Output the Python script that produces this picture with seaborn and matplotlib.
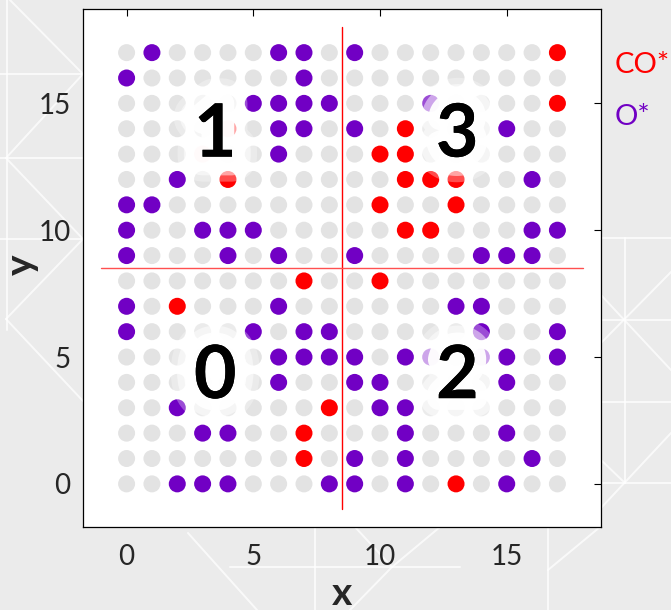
import matplotlib
matplotlib.use("Agg")
import matplotlib.pyplot as plt
import matplotlib.patheffects as pe
from matplotlib.lines import Line2D
import pandas as pd
import seaborn as sns

# Lattice: 18 x 18 adsorption sites
grid_n = 18
tick_values = [0, 5, 10, 15]

# Sites occupied by O*
o_x = [1, 6, 7, 0, 7, 5, 6, 7, 8, 6, 7, 6, 2, 0, 1, 0, 3, 4, 5, 0, 4, 6,
       9, 12, 9, 15, 16, 16, 17, 9, 14, 15, 16,
       0, 6, 0, 5, 7, 8, 6, 7, 8, 6, 2, 3, 4, 2, 3, 4, 8,
       13, 14, 14, 17, 9, 11, 12, 14, 15, 17, 9, 10, 15, 10, 11, 11, 15,
       9, 11, 16, 9, 11, 15]
o_y = [17, 17, 17, 16, 16, 15, 15, 15, 15, 14, 14, 13, 12, 11, 11, 10, 10, 10, 10, 9, 9, 9,
       17, 15, 14, 14, 12, 10, 10, 9, 9, 9, 9,
       7, 7, 6, 6, 6, 6, 5, 5, 5, 4, 3, 2, 2, 0, 0, 0, 0,
       7, 7, 6, 6, 5, 5, 5, 5, 5, 5, 4, 4, 4, 3, 3, 2, 2,
       1, 1, 1, 0, 0, 0]

# Sites occupied by CO*
co_x = [4, 3, 4,
        17, 17, 11, 10, 11, 11, 12, 13, 10, 13, 11, 12,
        7, 2, 8, 7, 7,
        10, 13]
co_y = [14, 13, 12,
        17, 15, 14, 13, 13, 12, 12, 12, 11, 11, 10, 10,
        8, 7, 3, 2, 1,
        8, 0]

quadrant_names = ["0", "1", "2", "3"]

site_state = {(x, y): "empty" for x in range(grid_n) for y in range(grid_n)}
for x, y in zip(o_x, o_y):
    site_state[(x, y)] = "O*"
for x, y in zip(co_x, co_y):
    site_state[(x, y)] = "CO*"
sites = pd.DataFrame([(x, y, s) for (x, y), s in site_state.items()],
                     columns=["x", "y", "species"])

sns.set_theme(style="white")
plt.rcParams["font.family"] = ["Lato", "DejaVu Sans"]

RED = "#ff0000"
PURPLE = "#7100c4"
GRAY = "#e3e3e3"
W, H = 671, 610

fig = plt.figure(figsize=(W / 100, H / 100), dpi=100, facecolor="#ebebeb")

# faint white triangular pattern on the page background
bg_segments = [
    ((0, 74), (83, 74)), ((7, 0), (7, 330)), ((10, 0), (83, 74)),
    ((83, 74), (6, 158)), ((6, 158), (83, 239)), ((0, 239), (83, 239)),
    ((83, 239), (6, 319)), ((6, 319), (83, 401)), ((0, 158), (83, 158)),
    ((625, 238), (625, 483)), ((601, 238), (671, 238)), ((601, 320), (671, 320)),
    ((601, 402), (671, 402)), ((601, 483), (671, 483)), ((601, 295), (671, 370)),
    ((671, 272), (601, 343)), ((671, 433), (601, 508)), ((601, 460), (625, 483)),
    ((548, 527), (548, 610)), ((315, 527), (315, 610)), ((230, 567), (460, 567)),
    ((355, 527), (392, 567)), ((392, 567), (440, 527)), ((392, 567), (350, 610)),
    ((188, 533), (257, 610)), ((600, 527), (548, 570)),
]
for (x0, y0), (x1, y1) in bg_segments:
    fig.add_artist(Line2D([x0 / W, x1 / W], [1 - y0 / H, 1 - y1 / H],
                          transform=fig.transFigure, color="white",
                          lw=1.4, alpha=0.75, zorder=-5))

ax = fig.add_axes([83 / W, 1 - 527 / H, 518 / W, 518 / H])
ax.set_facecolor("white")

sns.scatterplot(data=sites, x="x", y="y", hue="species",
                hue_order=["empty", "O*", "CO*"],
                palette={"empty": GRAY, "O*": PURPLE, "CO*": RED},
                s=150, linewidth=0, legend=False, ax=ax, zorder=2)

# quadrant dividers
ax.plot([8.5, 8.5], [-1, 18], color=RED, lw=1, zorder=3)
ax.plot([-1, 18], [8.5, 8.5], color="#ff5050", lw=1, zorder=3)

# quadrant numbers with a soft white glow
rnd = dict(joinstyle="round", capstyle="round")
glow = [
    pe.withStroke(linewidth=36, foreground="white", alpha=0.3, **rnd),
    pe.withStroke(linewidth=27, foreground="white", alpha=0.5, **rnd),
    pe.withStroke(linewidth=17, foreground="white", alpha=0.95, **rnd),
    pe.Normal(),
]
label_pos = {"0": (3.5, 3.38), "1": (3.5, 12.9), "2": (13.05, 3.38), "3": (13.05, 12.9)}
for name in quadrant_names:
    lx, ly = label_pos[name]
    ax.text(lx, ly, name, fontsize=53, fontweight="bold", color="black",
            ha="center", va="baseline", path_effects=glow, zorder=4)

ax.set_xlim(-1.72, 18.72)
ax.set_ylim(-1.7, 18.72)
ax.set_xticks(tick_values)
ax.set_yticks(tick_values)
ax.tick_params(axis="both", direction="in", length=5, width=0.8, color="black",
               labelsize=20, labelcolor="#262626", top=True, right=True)
ax.tick_params(axis="x", pad=12)
ax.tick_params(axis="y", pad=9)
for side in ax.spines.values():
    side.set_visible(True)
    side.set_color("black")
    side.set_linewidth(0.9)

ax.set_xlabel("x", fontsize=28, fontweight="bold", color="#262626")
ax.set_ylabel("y", fontsize=28, fontweight="bold", color="#262626")
ax.xaxis.set_label_coords(0.5, -0.095)
ax.yaxis.set_label_coords(-0.085, 0.506)

fig.text(615 / W, 1 - 73 / H, "CO*", color=RED, fontsize=21, va="baseline")
fig.text(615 / W, 1 - 125 / H, "O*", color=PURPLE, fontsize=21, va="baseline")

fig.savefig("out.png", dpi=100, facecolor=fig.get_facecolor())
